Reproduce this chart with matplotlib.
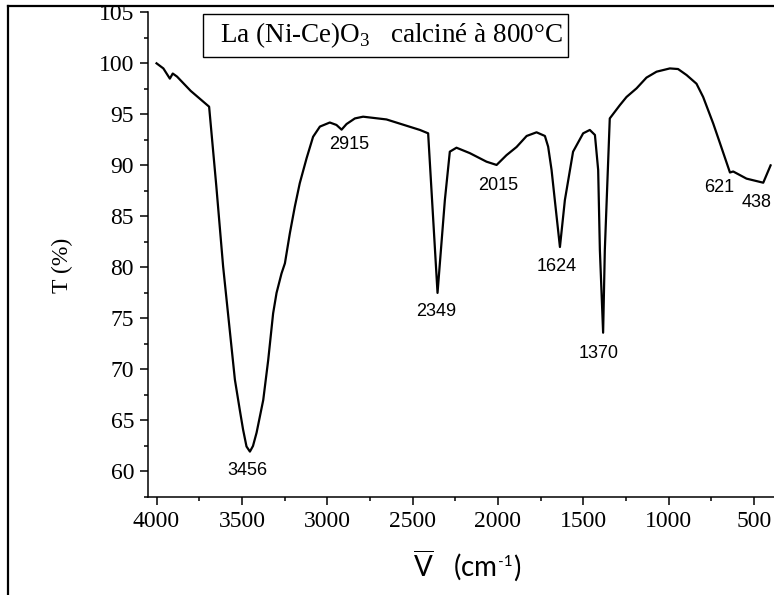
import matplotlib
matplotlib.use("Agg")
import matplotlib.pyplot as plt
from matplotlib.lines import Line2D
from matplotlib.patches import Rectangle
from matplotlib.ticker import MultipleLocator

# FTIR spectrum
wavenumber = [4000, 3960, 3922, 3905, 3880, 3800, 3692, 3650, 3610, 3541, 3512,
              3493, 3473, 3453, 3435, 3414, 3375, 3346, 3317, 3297, 3268, 3248,
              3219, 3190, 3161, 3121, 3083, 3043, 2985, 2946, 2916, 2887, 2838,
              2790, 2653, 2457, 2409, 2354, 2311, 2282, 2243, 2165, 2067, 2008,
              1950, 1891, 1832, 1774, 1725, 1706, 1686, 1667, 1637, 1608, 1560,
              1501, 1462, 1432, 1413, 1403, 1384, 1374, 1345, 1286, 1247, 1188,
              1130, 1071, 993, 945, 895, 837, 798, 739, 700, 641, 622, 544, 446, 403]
transmittance = [100.0, 99.5, 98.5, 99.0, 98.7, 97.3, 95.75, 88.0, 80.1, 69.0, 66.0,
                 64.1, 62.45, 61.95, 62.5, 63.8, 67.0, 70.9, 75.5, 77.5, 79.4, 80.4,
                 83.35, 85.95, 88.25, 90.7, 92.8, 93.8, 94.2, 93.96, 93.5, 94.05, 94.6,
                 94.77, 94.5, 93.47, 93.14, 77.5, 86.6, 91.34, 91.73, 91.2, 90.36, 90.04,
                 91.0, 91.8, 92.88, 93.24, 92.88, 91.83, 89.55, 86.6, 82.0, 86.6, 91.34,
                 93.14, 93.47, 92.98, 89.55, 81.7, 73.6, 81.7, 94.6, 95.9, 96.7, 97.55,
                 98.6, 99.18, 99.5, 99.44, 98.85, 98.0, 96.7, 94.1, 92.2, 89.3, 89.4,
                 88.7, 88.3, 90.0]

peak_labels = ["3456", "2915", "2349", "2015", "1624", "1370", "621", "438"]
peak_x = [3469, 2872, 2360, 1999, 1657, 1409, 704, 485]
peak_y = [60.1, 92.0, 75.7, 88.0, 80.1, 71.6, 87.8, 86.35]

plt.rcParams["mathtext.fontset"] = "custom"
plt.rcParams["mathtext.rm"] = "Liberation Serif"
plt.rcParams["mathtext.sf"] = "Lato"

W, H = 774, 595
fig = plt.figure(figsize=(W / 100, H / 100), dpi=100)
ax = fig.add_axes([148 / W, 1 - 497 / H, 1 - 148 / W, (497 - 12.3) / H])

ax.plot(wavenumber, transmittance, color="black", lw=1.6)

ax.set_xlim(4050, 383)
ax.set_ylim(57.5, 105)
ax.xaxis.set_major_locator(MultipleLocator(500))
ax.xaxis.set_minor_locator(MultipleLocator(250))
ax.yaxis.set_major_locator(MultipleLocator(5))
ax.yaxis.set_minor_locator(MultipleLocator(2.5))
ax.spines["top"].set_visible(False)
ax.spines["right"].set_visible(False)
for s in ("left", "bottom"):
    ax.spines[s].set_linewidth(1.1)
ax.tick_params(which="major", direction="out", length=6, width=1.1, pad=4)
ax.tick_params(which="minor", direction="out", length=3, width=1.1)
for lab in ax.get_xticklabels() + ax.get_yticklabels():
    lab.set_fontfamily("Liberation Serif")
    lab.set_fontsize(17)

for t, x, y in zip(peak_labels, peak_x, peak_y):
    ax.text(x, y, t, ha="center", va="center", fontsize=13, family="Liberation Sans")

fig.text(62 / W, 1 - 265 / H, "T (%)", rotation=90, ha="center", va="center",
         fontsize=17, family="Liberation Serif")

# x label: barred V, (cm, superscript -1, )
renderer = fig.canvas.get_renderer()
base = 1 - 577 / H
t1 = fig.text(413 / W, base, r"$\overline{\mathsf{V}}$   (cm", ha="left", va="baseline",
              fontsize=20, family="Lato")
x1 = t1.get_window_extent(renderer).x1
t2 = fig.text((x1 + 1) / W, 1 - 566 / H, "-1", ha="left", va="baseline",
              fontsize=11, family="Lato")
x2 = t2.get_window_extent(renderer).x1
fig.text((x2 + 1) / W, base, ")", ha="left", va="baseline", fontsize=20, family="Lato")

# title box
fig.add_artist(Rectangle((203 / W, 1 - 57 / H), 365 / W, 43 / H, transform=fig.transFigure,
                         fill=False, edgecolor="black", lw=1.0))
fig.text(220 / W, 1 - 42 / H, r"La (Ni-Ce)O$_\mathrm{3}$   calciné à 800°C", ha="left",
         va="baseline", fontsize=19.5, family="Liberation Serif")

# outer frame (cropped page border)
fig.add_artist(Rectangle((0, 1 - 6 / H), 1, 6 / H, transform=fig.transFigure,
                         facecolor="white", edgecolor="none", zorder=10))
fig.add_artist(Line2D([8.3 / W, 1], [1 - 6 / H, 1 - 6 / H], transform=fig.transFigure,
                      color="black", lw=1.6, zorder=11))
fig.add_artist(Line2D([8.3 / W, 8.3 / W], [0, 1 - 6 / H], transform=fig.transFigure,
                      color="black", lw=1.6, zorder=11))

fig.savefig("out.png", dpi=100)
